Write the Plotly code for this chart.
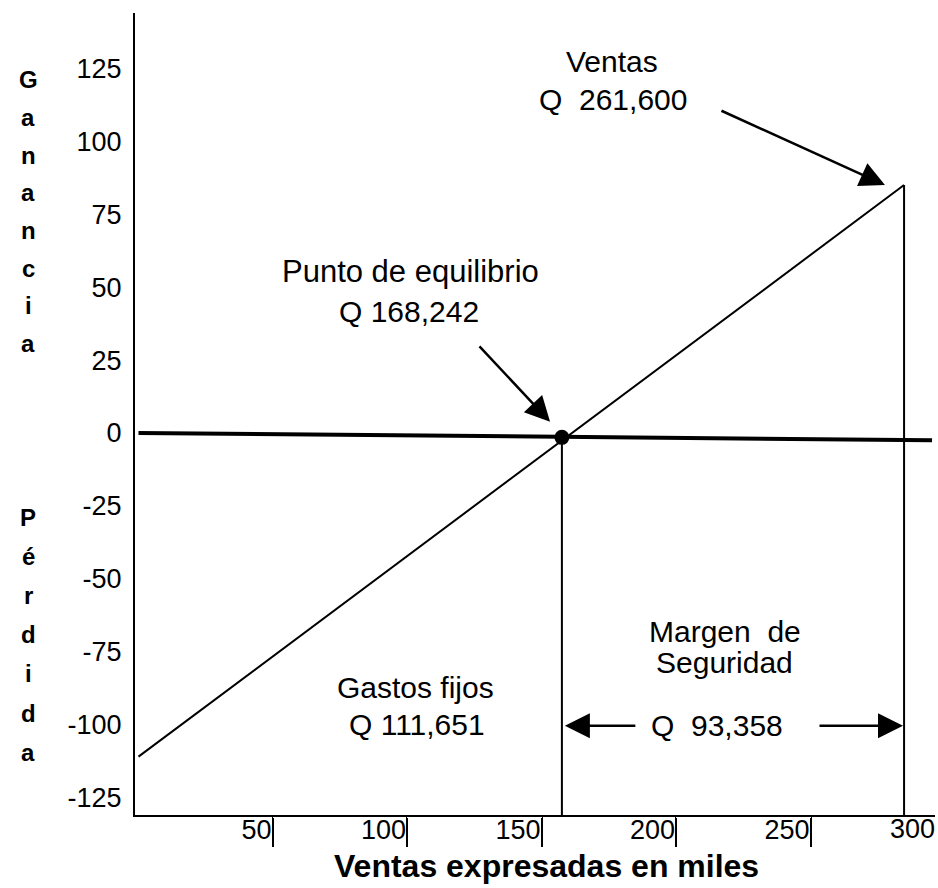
import plotly.graph_objects as go

# ---- data (x: ventas en miles, y: ganancia/pérdida) ----
ventas_x = [0, 284.6]
ventas_y = [-111, 85]
cero_x = [0, 295]
cero_y = [0, -2.5]
equilibrio_x = [157.4]
equilibrio_y = [-1.5]
vert_eq_x = [157.4, 157.4]
vert_eq_y = [-1.5, -133]
vert_ventas_x = [284.6, 284.6]
vert_ventas_y = [85, -131]

x_ticks = [50, 100, 150, 200, 250]
y_ticks = [125, 100, 75, 50, 25, 0, -25, -50, -75, -100, -125]
y_labels = ["125", "100", "75", "50", "25", "0", "-25", "-50", "-75", "-100", "-125"]

FONT = "Liberation Sans, Arial, sans-serif"
BLACK = "#000000"

L, R, T, B = 135, 3, 13, 73
W, H = 938, 888
pw, ph = W - L - R, H - T - B

fig = go.Figure()
fig.add_trace(go.Scatter(x=cero_x, y=cero_y, mode="lines",
                         line=dict(color=BLACK, width=4), hoverinfo="skip"))
fig.add_trace(go.Scatter(x=ventas_x, y=ventas_y, mode="lines",
                         line=dict(color=BLACK, width=2), hoverinfo="skip"))
fig.add_trace(go.Scatter(x=vert_eq_x, y=vert_eq_y, mode="lines", cliponaxis=False,
                         line=dict(color=BLACK, width=2), hoverinfo="skip"))
fig.add_trace(go.Scatter(x=vert_ventas_x, y=vert_ventas_y, mode="lines",
                         line=dict(color=BLACK, width=2), hoverinfo="skip"))
fig.add_trace(go.Scatter(x=equilibrio_x, y=equilibrio_y, mode="markers",
                         marker=dict(color=BLACK, size=15), hoverinfo="skip"))

ann = []
TS = 30
def txt(x, y, s, size=TS, bold=False):
    ann.append(dict(x=x, y=y, xref="x", yref="y", text=("<b>%s</b>" % s) if bold else s,
                    showarrow=False, font=dict(family=FONT, size=size, color=BLACK),
                    xanchor="center", yanchor="middle"))

def arrow(x, y, ax, ay):
    ann.append(dict(x=x, y=y, xref="x", yref="y", ax=ax, ay=ay, text="",
                    showarrow=True, arrowhead=2, arrowsize=2.0, arrowwidth=2.5,
                    arrowcolor=BLACK))

txt(176, 127.2, "Ventas")
txt(176.4, 114.2, "Q&nbsp;&nbsp;261,600")
txt(101, 55.2, "Punto de equilibrio", size=31)
txt(100.6, 41.5, "Q 168,242")
txt(102.8, -87.4, "Gastos fijos")
txt(103.5, -99.8, "Q 111,651")
txt(218, -68.2, "Margen&nbsp;&nbsp;de")
txt(218, -78.8, "Seguridad")
txt(215, -100.4, "Q&nbsp;&nbsp;93,358")

arrow(277.5, 85, -165, -75)
arrow(153, 3.8, -72, -77)
arrow(158.5, -100.4, 72, 0)
arrow(284.2, -100.4, -85, 0)

def pix(px, py):
    return (px - L) / pw, (H - B - py) / ph

# "300" label at the right edge (its tick lies beyond the visible range)
px300, py300 = pix(937, 829)
ann.append(dict(x=px300, y=py300, xref="paper", yref="paper", text="300", showarrow=False,
                xanchor="right", yanchor="middle",
                font=dict(family=FONT, size=27, color=BLACK)))

# x-axis title
tx, ty = pix(546, 866)
ann.append(dict(x=tx, y=ty, xref="paper", yref="paper",
                text="<b>Ventas expresadas en miles</b>", showarrow=False,
                xanchor="center", yanchor="middle",
                font=dict(family=FONT, size=32, color=BLACK)))

# vertical axis words
for i, ch in enumerate("Ganancia"):
    gx, gy = pix(28, 80 + 37.6 * i)
    ann.append(dict(x=gx, y=gy, xref="paper", yref="paper", text="<b>%s</b>" % ch,
                    showarrow=False, font=dict(family=FONT, size=24, color=BLACK),
                    xanchor="center", yanchor="middle"))
for i, ch in enumerate("Pérdida"):
    gx, gy = pix(28, 517 + 39.2 * i)
    ann.append(dict(x=gx, y=gy, xref="paper", yref="paper", text="<b>%s</b>" % ch,
                    showarrow=False, font=dict(family=FONT, size=24, color=BLACK),
                    xanchor="center", yanchor="middle"))

fig.update_layout(
    width=W, height=H,
    margin=dict(l=L, r=R, t=T, b=B, autoexpand=False),
    paper_bgcolor="white", plot_bgcolor="white",
    showlegend=False,
    annotations=ann,
    xaxis=dict(range=[-1.3, 296.1], showgrid=False, zeroline=False, automargin=False,
               showline=True, linecolor=BLACK, linewidth=2,
               tickvals=x_ticks, ticktext=[str(v) for v in x_ticks],
               ticks="outside", ticklen=1, tickwidth=1, tickcolor="white",
               ticklabelposition="outside left", ticklabelstandoff=-10,
               minor=dict(tickvals=x_ticks, ticks="outside", ticklen=30,
                          tickwidth=2, tickcolor=BLACK),
               tickfont=dict(family=FONT, size=27, color=BLACK)),
    yaxis=dict(range=[-131, 144], showgrid=False, zeroline=False, automargin=False,
               showline=True, linecolor=BLACK, linewidth=2,
               tickvals=y_ticks, ticktext=y_labels,
               ticks="outside", ticklen=6, tickcolor="white",
               tickfont=dict(family=FONT, size=27, color=BLACK)),
)

fig.write_html("out.html", config={"displayModeBar": False, "staticPlot": True},
               post_script="document.body.style.margin='0';document.body.style.overflow='hidden';")
